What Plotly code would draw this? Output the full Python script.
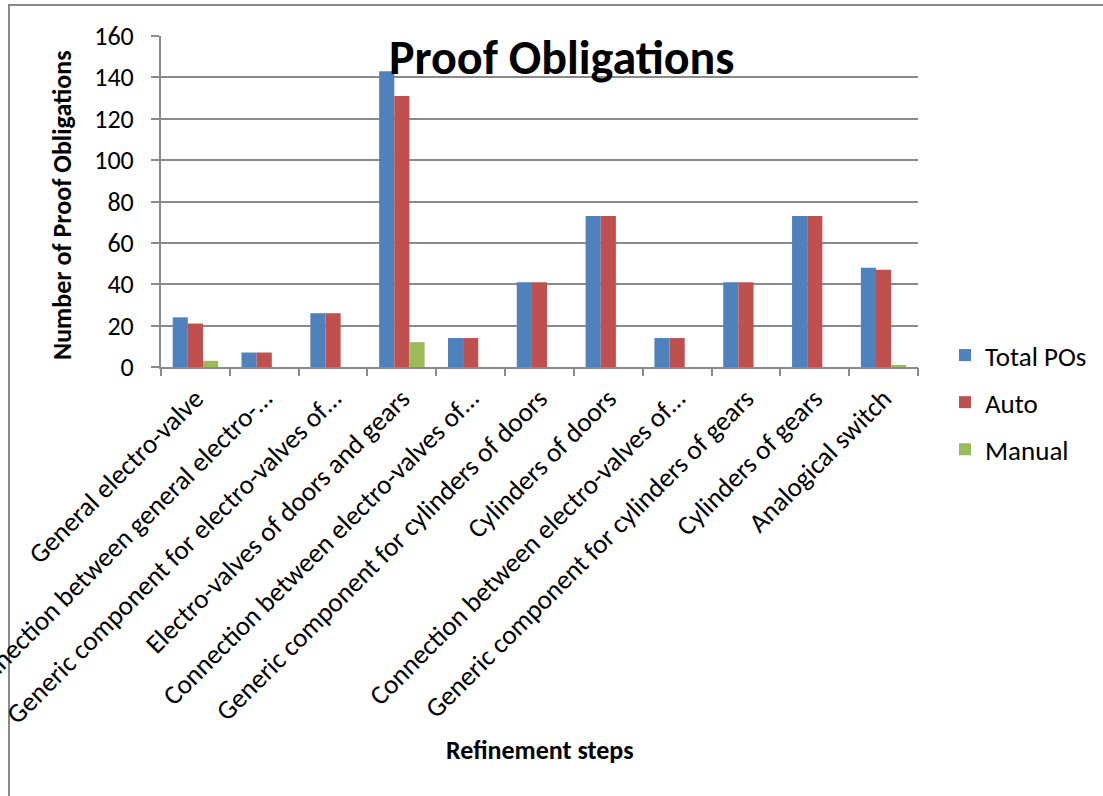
import plotly.graph_objects as go

categories = [
    "General electro-valve",
    "Connection between general electro-…",
    "Generic component for electro-valves of…",
    "Electro-valves of doors and gears",
    "Connection between electro-valves of…",
    "Generic component for cylinders of doors",
    "Cylinders of doors",
    "Connection between electro-valves of…",
    "Generic component for cylinders of gears",
    "Cylinders of gears",
    "Analogical switch",
]
total_pos = [24, 7, 26, 143, 14, 41, 73, 14, 41, 73, 48]
auto = [21, 7, 26, 131, 14, 41, 73, 14, 41, 73, 47]
manual = [3, 0, 0, 12, 0, 0, 0, 0, 0, 0, 1]
y_ticks = [0, 20, 40, 60, 80, 100, 120, 140, 160]

FONT = "Carlito, Calibri, Lato, sans-serif"
W, H = 1103, 796
L, R, T, B = 161, 918, 36, 367

def px(x):
    return (x - L) / (R - L)

def py(y):
    return (B - y) / (B - T)

xs = list(range(len(categories)))

fig = go.Figure()
fig.add_trace(go.Bar(x=xs, y=total_pos, name="Total POs", marker_color="#4F81BD",
                     legendgroup="a", marker_line_width=0))
fig.add_trace(go.Bar(x=xs, y=auto, name="Auto", marker_color="#C0504D",
                     legendgroup="b", marker_line_width=0))
fig.add_trace(go.Bar(x=xs, y=manual, name="Manual", marker_color="#9BBB59",
                     legendgroup="c", marker_line_width=0))
# invisible trace to activate the boundary-tick axis
fig.add_trace(go.Scatter(x=[0], y=[0], xaxis="x2", mode="markers",
                         marker=dict(opacity=0), showlegend=False, hoverinfo="skip"))

grid_col = "#8a8a8a"
fig.update_layout(
    width=W, height=H,
    margin=dict(l=L, r=W - R, t=T, b=H - B, autoexpand=False),
    paper_bgcolor="white", plot_bgcolor="white",
    font=dict(family=FONT, size=26, color="black"),
    barmode="group", bargap=0.34, bargroupgap=0,
    xaxis=dict(
        range=[-0.5, len(categories) - 0.5],
        tickvals=xs, ticktext=categories, tickangle=-45,
        ticks="", showgrid=False, zeroline=False,
        showline=True, linecolor=grid_col, linewidth=2,
        tickfont=dict(size=27), automargin=False, ticklabelstandoff=3,
        ticklabeloverflow="allow",
    ),
    xaxis2=dict(
        overlaying="x", side="bottom",
        range=[-0.5, len(categories) - 0.5],
        tickvals=[i - 0.5 for i in range(len(categories) + 1)],
        ticks="outside", ticklen=8, tickwidth=2, tickcolor=grid_col,
        showticklabels=False, showgrid=False, zeroline=False, showline=False,
    ),
    yaxis=dict(
        range=[0, 160], tickvals=y_ticks,
        ticks="outside", ticklen=8, tickwidth=2, tickcolor=grid_col,
        showgrid=True, gridcolor=grid_col, gridwidth=2,
        showline=True, linecolor=grid_col, linewidth=2, zeroline=False,
        tickfont=dict(size=26), automargin=False, ticklabelstandoff=12,
    ),
    legend=dict(
        x=px(945), y=py(331), xanchor="left", yanchor="top",
        font=dict(size=27), tracegroupgap=9, bgcolor="rgba(0,0,0,0)",
    ),
    showlegend=True,
)

fig.add_annotation(
    text="<b>Proof Obligations</b>", xref="paper", yref="paper",
    x=px(561), y=py(57), xanchor="center", yanchor="middle",
    showarrow=False, font=dict(size=48, family=FONT, color="black"),
)
fig.add_annotation(
    text="<b>Number of Proof Obligations</b>", xref="paper", yref="paper",
    x=px(62), y=py(205), xanchor="center", yanchor="middle", textangle=-90,
    showarrow=False, font=dict(size=26, family=FONT, color="black"),
)
fig.add_annotation(
    text="<b>Refinement steps</b>", xref="paper", yref="paper",
    x=px(540), y=py(750), xanchor="center", yanchor="middle",
    showarrow=False, font=dict(size=26, family=FONT, color="black"),
)

fig.add_shape(type="rect", xref="paper", yref="paper",
              x0=px(9), x1=px(1115), y0=py(805), y1=py(5),
              line=dict(color="#8a8a8a", width=2), fillcolor="rgba(0,0,0,0)", layer="below")

fig.write_html("out.html")
